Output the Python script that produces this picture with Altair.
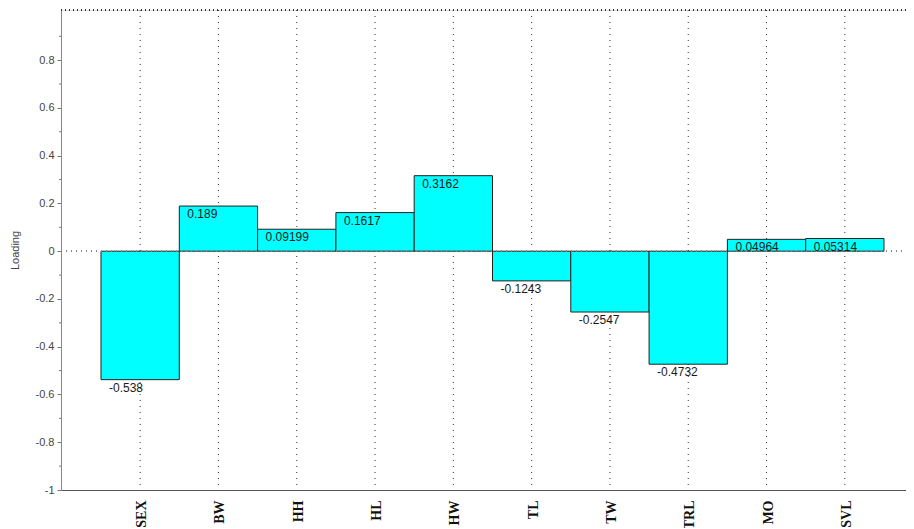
import altair as alt
import pandas as pd

categories = ["SEX", "BW", "HH", "HL", "HW", "TL", "TW", "TRL", "MO", "SVL"]
loadings = [-0.538, 0.189, 0.09199, 0.1617, 0.3162, -0.1243, -0.2547, -0.4732, 0.04964, 0.05314]
value_labels = ["-0.538", "0.189", "0.09199", "0.1617", "0.3162", "-0.1243", "-0.2547", "-0.4732", "0.04964", "0.05314"]
y_ticks = [-1, -0.8, -0.6, -0.4, -0.2, 0, 0.2, 0.4, 0.6, 0.8]
minor_ticks = [-0.9, -0.7, -0.5, -0.3, -0.1, 0.1, 0.3, 0.5, 0.7, 0.9]

df = pd.DataFrame({"cat": categories, "loading": loadings, "label": value_labels})
minor_df = pd.DataFrame({"v": minor_ticks})

W, H = 845, 480

xscale = alt.Scale(domain=categories, paddingInner=0, paddingOuter=0.396, align=0.645)
yscale = alt.Scale(domain=[-1, 1.01], nice=False, zero=False)

x_axis = alt.Axis(
    title=None, labelAngle=270, labelFont="Liberation Serif", labelFontWeight="bold",
    labelFontSize=14, labelColor="#111", ticks=False, labelPadding=10, labelOffset=2,
    domainColor="#555", domainWidth=1.2, grid=False,
)
y_axis = alt.Axis(
    title="Loading", values=y_ticks, labelExpr="'' + round(datum.value*10)/10",
    labelFont="Liberation Sans", labelFontSize=11, labelColor="#444",
    tickSize=4, tickColor="#777", domainColor="#888", labelPadding=3,
    titleFont="Liberation Sans", titleFontSize=11, titleFontWeight="normal",
    titleColor="#444", titleX=-46, titleY=240, titleAlign="center", titleBaseline="middle",
    titleAngle=270, grid=False,
)

base = alt.Chart(df)

vgrid = base.mark_rule(color="#333", strokeDash=[1, 5], strokeWidth=1).encode(
    x=alt.X("cat:N", scale=xscale, axis=x_axis, sort=categories)
)

top_line = base.mark_rule(color="#333", strokeDash=[1, 3], strokeWidth=1).encode(
    y=alt.value(0), x=alt.value(0), x2=alt.value(W)
)

zero_line = base.mark_rule(color="#888", strokeDash=[1, 4], strokeWidth=1).encode(
    y=alt.datum(0, scale=yscale), x=alt.value(0), x2=alt.value(W)
)

minor = alt.Chart(minor_df).mark_rule(color="#777", strokeWidth=1).encode(
    y=alt.Y("v:Q", scale=yscale), x=alt.value(-2), x2=alt.value(0)
)

bars = base.mark_bar(fill="#00FFFF", stroke="#222", strokeWidth=1).encode(
    x=alt.X("cat:N", scale=xscale, sort=categories, axis=x_axis),
    y=alt.Y("loading:Q", scale=yscale, axis=y_axis),
    y2=alt.datum(0),
)

texts = base.mark_text(
    align="left", baseline="top", dx=8, dy=3, font="Liberation Sans", fontSize=12, color="#1a1a1a"
).encode(
    x=alt.X("cat:N", scale=xscale, sort=categories, bandPosition=0),
    y=alt.Y("loading:Q", scale=yscale),
    text="label:N",
)

chart = alt.layer(vgrid, top_line, bars, zero_line, minor, texts).properties(
    width=W, height=H,
    autosize=alt.AutoSizeParams(type="none"),
    padding={"left": 53, "top": 2, "right": 0, "bottom": 38},
).configure_view(stroke=None).configure(background="white")

chart.save("out.html", embed_options={"renderer": "svg", "actions": False})
